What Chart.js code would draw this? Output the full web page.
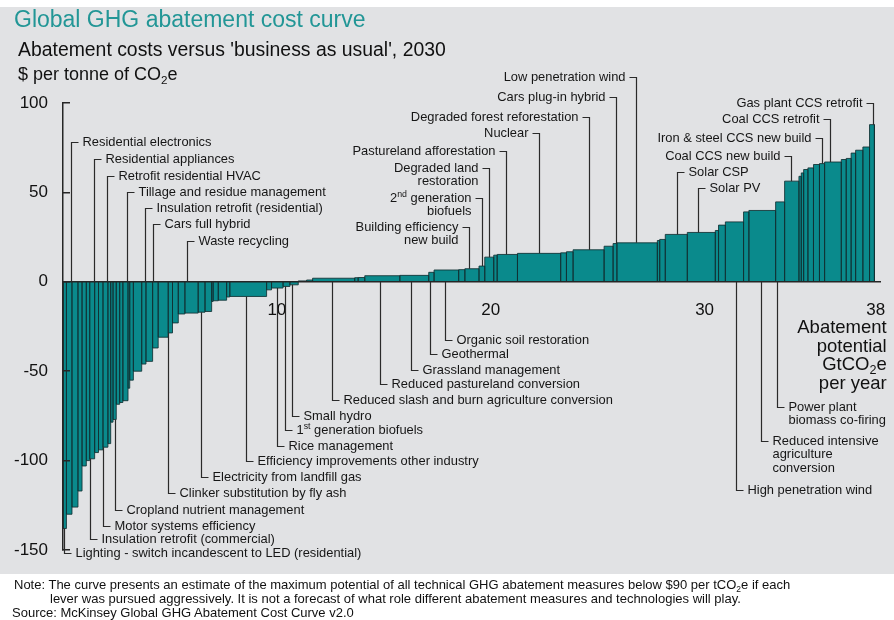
<!DOCTYPE html>
<html><head><meta charset="utf-8">
<script src="https://cdn.jsdelivr.net/npm/chart.js@4"></script>
<style>
html,body{margin:0;padding:0;background:#fff;}
#wrap{position:relative;width:894px;height:620px;overflow:hidden;font-family:"Liberation Sans",Arial,sans-serif;}
#panel{position:absolute;left:0;top:7px;width:894px;height:567px;background:#e1e2e4;}
#c{position:absolute;left:0;top:0;}
.t{position:absolute;white-space:nowrap;line-height:1;}
.t sub{font-size:0.65em;vertical-align:-0.3em;line-height:0;}
#title{left:14px;top:7.5px;font-size:23px;color:#229696;}
#sub1{left:18px;top:40.3px;font-size:19.4px;color:#111;}
#sub2{left:18px;top:64.8px;font-size:18px;color:#111;}
.note{font-size:13px;color:#111;}
</style></head>
<body>
<div id="wrap">
<div id="panel"></div>
<canvas id="c" width="894" height="620"></canvas>
<div class="t" id="title">Global GHG abatement cost curve</div>
<div class="t" id="sub1">Abatement costs versus 'business as usual', 2030</div>
<div class="t" id="sub2">$ per tonne of CO<sub>2</sub>e</div>
<div class="t note" style="left:14px;top:578px;">Note: The curve presents an estimate of the maximum potential of all technical GHG abatement measures below $90 per tCO<sub>2</sub>e if each</div>
<div class="t note" style="left:50px;top:592px;">lever was pursued aggressively. It is not a forecast of what role different abatement measures and technologies will play.</div>
<div class="t note" style="left:12px;top:606px;">Source: McKinsey Global GHG Abatement Cost Curve v2.0</div>
</div>
<script>
// Abatement potential of each lever (GtCO2e per year), left to right
const abatementWidths = [
  0.16, 0.26, 0.28, 0.19, 0.20, 0.16, 0.23, 0.18, 0.21, 0.23,
  0.13, 0.11, 0.15, 0.16, 0.15, 0.24, 0.08, 0.17, 0.39, 0.20,
  0.31, 0.26, 0.47, 0.20, 0.27, 0.31, 0.62, 0.32, 0.31, 0.07,
  0.24, 0.39, 0.15, 1.72, 0.23, 0.54, 0.32, 0.39, 0.39, 0.28,
  1.97, 0.16, 0.31, 1.64, 1.35, 0.25, 1.15, 0.29, 0.66, 0.27,
  0.42, 0.16, 0.95, 2.02, 0.27, 0.31, 1.45, 0.42, 0.18, 1.89,
  0.11, 0.26, 1.03, 1.31, 0.15, 0.32, 0.85, 0.25, 1.25, 0.42,
  0.67, 0.11, 0.11, 0.20, 0.26, 0.28, 0.24, 0.78, 0.23, 0.23,
  0.21, 0.34, 0.31, 0.23
];
// Abatement cost of each lever ($ per tonne CO2e)
const abatementCosts = [
  -138, -130, -126, -117, -103, -100, -99, -95.5, -94, -92.5,
  -90.5, -78.5, -77, -68.5, -67.5, -66.5, -59.5, -55, -50, -46,
  -44.5, -37, -31, -28.6, -23, -18, -17.5, -17, -16.6, -11,
  -10.6, -10.3, -8.5, -8.2, -4.5, -3.5, -2.6, -1.7, 0.5, 1.0,
  2.0, 2.3, 2.4, 3.4, 3.6, 5.3, 6.6, 6.8, 7.3, 8.8,
  13.8, 14.9, 15.3, 15.9, 16.2, 16.8, 17.9, 19.9, 21.4, 21.8,
  23.1, 23.7, 26.5, 27.6, 28.7, 31.7, 33.5, 39.1, 39.9, 44.7,
  56.3, 59, 60.9, 62.8, 63.7, 65.6, 66.1, 67.0, 68.4, 69,
  72, 73.6, 75.4, 87.9
];
const xTickValues = [10, 20, 30, 38];
const yTickStep = 50;
const xAxisTitle = ['Abatement', 'potential', 'GtCO_{2}e', 'per year'];

// Callouts: label text, position on the curve (GtCO2e) and label level ($/t)
const calloutText = [
  ['Residential electronics'], ['Residential appliances'], ['Retrofit residential HVAC'],
  ['Tillage and residue management'], ['Insulation retrofit (residential)'], ['Cars full hybrid'],
  ['Waste recycling'],
  ['Building efficiency', 'new build'], ['2^{nd} generation', 'biofuels'], ['Degraded land', 'restoration'],
  ['Pastureland afforestation'], ['Nuclear'], ['Degraded forest reforestation'], ['Cars plug-in hybrid'],
  ['Low penetration wind'],
  ['Solar CSP'], ['Solar PV'],
  ['Coal CCS new build'], ['Iron & steel CCS new build'], ['Coal CCS retrofit'], ['Gas plant CCS retrofit'],
  ['Lighting - switch incandescent to LED (residential)'], ['Insulation retrofit (commercial)'],
  ['Motor systems efficiency'], ['Cropland nutrient management'], ['Clinker substitution by fly ash'],
  ['Electricity from landfill gas'], ['Efficiency improvements other industry'], ['Rice management'],
  ['1^{st} generation biofuels'], ['Small hydro'], ['Reduced slash and burn agriculture conversion'],
  ['Reduced pastureland conversion'], ['Grassland management'], ['Geothermal'], ['Organic soil restoration'],
  ['High penetration wind'], ['Reduced intensive', 'agriculture', 'conversion'], ['Power plant', 'biomass co-firing']
];
const calloutAt = [
  0.37, 1.46, 2.04, 2.98, 3.83, 4.2, 5.78,
  18.99, 19.57, 19.92, 20.69, 22.26, 24.59, 25.84, 26.81,
  28.71, 29.69,
  34.02, 35.5, 35.87, 37.86,
  0.05, 1.26, 1.88, 2.43, 4.93, 6.43, 8.55, 10.01, 10.37, 10.73, 12.56, 14.81, 16.29, 17.15, 17.88,
  31.45, 32.65, 33.4
];
const calloutLevel = [
  78.4, 68.5, 59.2, 50.4, 41.4, 32.5, 22.8,
  30.8, 46.9, 63.5, 73.3, 83.1, 92.0, 103.5, 114.7,
  61.6, 52.3,
  70.5, 80.3, 90.9, 99.8,
  -151.4, -144, -136.6, -127.6, -118, -109.3, -100, -91.8, -82.9, -75, -66.1, -57.2, -49.3, -40.5, -32.6,
  -116.4, -88.9, -69.9
];
const calloutSide = [
  'r','r','r','r','r','r','r',
  'l','l','l','l','l','l','l','l',
  'r','r',
  'l','l','l','l',
  'r','r','r','r','r','r','r','r','r','r','r','r','r','r','r',
  'r','r','r'
];

const FAMILY = '"Liberation Sans", Arial, sans-serif';

// Build stepped outline of the cost curve from the arrays
const curvePoints = [];
{
  let cum = 0;
  abatementWidths.forEach((w, i) => {
    const x0 = cum, x1 = cum + w, c = abatementCosts[i];
    curvePoints.push({x: x0, y: 0}, {x: x0, y: c}, {x: x1, y: c}, {x: x1, y: 0});
    cum = x1;
  });
}
function costAt(v) {
  let cum = 0;
  for (let i = 0; i < abatementWidths.length; i++) {
    if (v >= cum && v < cum + abatementWidths[i]) return abatementCosts[i];
    cum += abatementWidths[i];
  }
  return 0;
}
function parseRich(s) {
  const out = []; const re = /(\^\{[^}]*\}|_\{[^}]*\})/g; let last = 0, m;
  while ((m = re.exec(s))) {
    if (m.index > last) out.push({t: s.slice(last, m.index), k: 0});
    out.push({t: m[0].slice(2, -1), k: m[0][0] === '^' ? 1 : -1});
    last = re.lastIndex;
  }
  if (last < s.length) out.push({t: s.slice(last), k: 0});
  return out;
}
function drawRich(ctx, s, x, y, align, size) {
  const segs = parseRich(s);
  const fN = size + 'px ' + FAMILY, fS = (size * 0.68).toFixed(1) + 'px ' + FAMILY;
  let w = 0;
  segs.forEach(g => { ctx.font = g.k ? fS : fN; g.w = ctx.measureText(g.t).width; w += g.w; });
  let cx = align === 'right' ? x - w : (align === 'center' ? x - w / 2 : x);
  ctx.textAlign = 'left';
  segs.forEach(g => {
    ctx.font = g.k ? fS : fN;
    const dy = g.k === 1 ? -size * 0.3 : (g.k === -1 ? size * 0.3 : 0);
    ctx.fillText(g.t, cx, y + dy);
    cx += g.w;
  });
}

const calloutPlugin = {
  id: 'callouts',
  afterDraw(chart) {
    const {ctx, scales: {x, y}} = chart;
    ctx.save();
    ctx.strokeStyle = '#2a2a2a';
    ctx.lineWidth = 1.2;
    ctx.fillStyle = '#161616';
    ctx.textBaseline = 'middle';
    calloutText.forEach((lines, i) => {
      const px = Math.round(x.getPixelForValue(calloutAt[i])) + 0.5;
      const lvl = calloutLevel[i];
      const py = Math.round(y.getPixelForValue(lvl)) + 0.5;
      const v = costAt(calloutAt[i]);
      const edge = lvl > 0 ? Math.max(0, v) : Math.min(0, v);
      const pe = y.getPixelForValue(edge);
      const dir = calloutSide[i] === 'r' ? 1 : -1;
      ctx.beginPath();
      ctx.moveTo(px, pe);
      ctx.lineTo(px, py);
      ctx.lineTo(px + dir * 7, py);
      ctx.stroke();
      lines.forEach((ln, j) => {
        drawRich(ctx, ln, px + dir * 11, py + j * 13.3, dir > 0 ? 'left' : 'right', 12.9);
      });
    });
    // x-axis title block under the last tick
    ctx.fillStyle = '#111';
    const baseY = y.getPixelForValue(0) + 46;
    const rightX = x.getPixelForValue(xTickValues[xTickValues.length - 1]) + 11;
    xAxisTitle.forEach((ln, j) => {
      drawRich(ctx, ln, rightX, baseY + j * 18.7, 'right', 18.5);
    });
    ctx.restore();
  }
};

new Chart(document.getElementById('c'), {
  type: 'line',
  data: {
    datasets: [{
      data: curvePoints,
      fill: 'origin',
      backgroundColor: '#0a8a8c',
      borderColor: 'rgba(18,48,50,0.85)',
      borderWidth: 1,
      pointRadius: 0,
      tension: 0
    }]
  },
  options: {
    responsive: false,
    animation: false,
    layout: {padding: {left: 0, top: 103, right: 14, bottom: 70}},
    plugins: {legend: {display: false}, tooltip: {enabled: false}},
    scales: {
      x: {
        type: 'linear', min: 0, max: 38.2,
        position: {y: 0},
        afterBuildTicks: s => { s.ticks = xTickValues.map(v => ({value: v})); },
        afterFit: s => { s.paddingLeft = 0; s.paddingRight = 0; },
        grid: {display: false, drawTicks: false},
        border: {display: true, color: '#262626', width: 1.5, z: 2},
        ticks: {font: {size: 17, family: FAMILY}, color: '#111', padding: 18, maxRotation: 0, autoSkip: false}
      },
      y: {
        min: -150, max: 100,
        position: 'left',
        ticks: {stepSize: yTickStep, font: {size: 17, family: FAMILY}, color: '#111', padding: 22},
        grid: {drawOnChartArea: false, drawTicks: true, tickLength: -7, color: '#262626', lineWidth: 1.5, z: 2},
        border: {display: true, color: '#262626', width: 1.5, z: 2},
        afterFit: s => { s.width = 63; }
      }
    }
  },
  plugins: [calloutPlugin]
});
</script>
</body></html>
